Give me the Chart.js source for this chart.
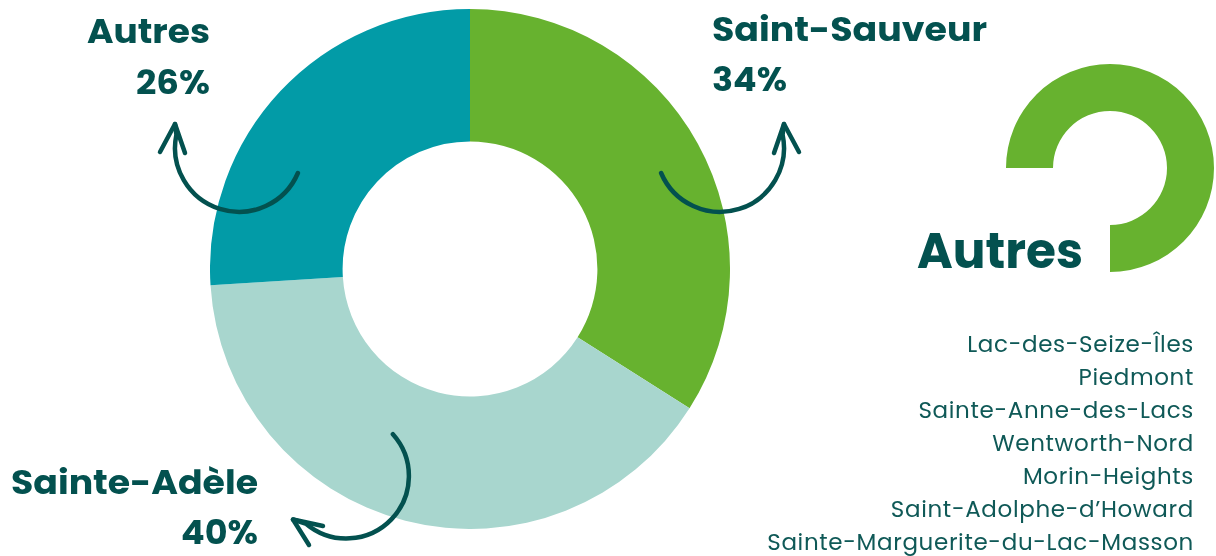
<!DOCTYPE html>
<html>
<head>
<meta charset="utf-8">
<script src="https://cdn.jsdelivr.net/npm/chart.js@4"></script>
<style>
  html, body { margin:0; padding:0; background:#ffffff; }
  body { width:1216px; height:556px; position:relative; overflow:hidden; }
  #wrap { position:absolute; left:210px; top:9px; width:520px; height:520px; }
  #over { position:absolute; left:0; top:0; width:1216px; height:556px; pointer-events:none; }
  .b { font-family: Poppins, "DejaVu Sans", sans-serif; font-weight:700; fill:#03514f; }
  .r { font-family: Poppins, "DejaVu Sans", sans-serif; font-weight:400; fill:#0f5957; }
</style>
</head>
<body>
<div id="wrap"><canvas id="c"></canvas></div>
<svg id="over" xmlns="http://www.w3.org/2000/svg" width="1216" height="556">
  <g id="deco"></g>
  <g id="arrows" fill="none" stroke="#03514f" stroke-width="4.5" stroke-linecap="round" stroke-linejoin="round"></g>
  <g id="labels"></g>
</svg>
<script>
// ---- data ----
const categories = ['Saint-Sauveur', 'Sainte-Adèle', 'Autres'];
const shares = [34, 40, 26];
const sliceColors = ['#67b22f', '#a8d6ce', '#029ba7'];
const otherTitle = 'Autres';
const otherMunicipalities = [
  'Lac-des-Seize-Îles',
  'Piedmont',
  'Sainte-Anne-des-Lacs',
  'Wentworth-Nord',
  'Morin-Heights',
  'Saint-Adolphe-d\u2019Howard',
  'Sainte-Marguerite-du-Lac-Masson'
];

// ---- chart ----
new Chart(document.getElementById('c'), {
  type: 'doughnut',
  data: {
    labels: categories,
    datasets: [{ data: shares, backgroundColor: sliceColors, borderWidth: 0, hoverOffset: 0 }]
  },
  options: {
    responsive: true,
    maintainAspectRatio: false,
    animation: false,
    cutout: '49%',
    layout: { padding: 0 },
    plugins: { legend: { display: false }, tooltip: { enabled: false } }
  }
});

// ---- overlay texts ----
const NS = 'http://www.w3.org/2000/svg';
function txt(parent, str, x, y, cls, size, anchor, len) {
  const t = document.createElementNS(NS, 'text');
  t.setAttribute('x', x); t.setAttribute('y', y);
  t.setAttribute('class', cls);
  t.setAttribute('font-size', size);
  t.setAttribute('text-anchor', anchor);
  if (len) { t.setAttribute('textLength', len); t.setAttribute('lengthAdjust', 'spacingAndGlyphs'); }
  t.textContent = str;
  parent.appendChild(t);
  return t;
}
const L = document.getElementById('labels');
// Autres (index 2)
txt(L, categories[2], 210, 43, 'b', 33, 'end', 123);
txt(L, shares[2] + '%', 210, 94, 'b', 33, 'end', 74);
// Saint-Sauveur (index 0)
txt(L, categories[0], 712, 41, 'b', 33, 'start', 275);
txt(L, shares[0] + '%', 712, 91, 'b', 33, 'start', 75);
// Sainte-Adèle (index 1)
txt(L, categories[1], 11, 494, 'b', 33, 'start', 247);
txt(L, shares[1] + '%', 258, 544, 'b', 33, 'end', 77);
// Big title
txt(L, otherTitle, 917, 268, 'b', 50, 'start', 166);
// list
otherMunicipalities.forEach((m, i) => {
  const t = txt(L, m, 1194, 352 + i * 33, 'r', 23, 'end');
  t.setAttribute('letter-spacing', '0.65');
});

// ---- arrows ----
const A = document.getElementById('arrows');
function path(parent, d) {
  const p = document.createElementNS(NS, 'path');
  p.setAttribute('d', d);
  parent.appendChild(p);
}
path(A, 'M 297.9 173 A 64 64 0 0 1 176.4 134.7 L 175 124');
path(A, 'M 160 152 L 175 124 L 185 153');
path(A, 'M 661.1 173 A 64 64 0 0 0 782.6 134.7 L 784 124');
path(A, 'M 799 152 L 784 124 L 774 153');
path(A, 'M 392.9 434.2 A 62.5 62.5 0 0 1 306.3 523.9 L 293 519.5');
path(A, 'M 323 526 L 293 519.5 L 309 545');

// ---- decorative ring ----
const D = document.getElementById('deco');
const ring = document.createElementNS(NS, 'path');
ring.setAttribute('d', 'M 1006 168 A 104 104 0 1 1 1110 272 L 1110 225 A 57 57 0 1 0 1053 168 Z');
ring.setAttribute('fill', '#67b22f');
D.appendChild(ring);
</script>
</body>
</html>
